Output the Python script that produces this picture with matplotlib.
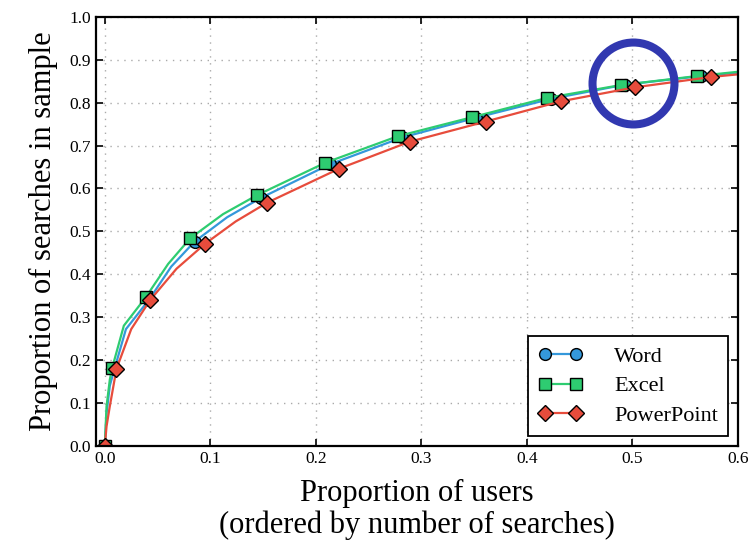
import numpy as np
import matplotlib as mpl
mpl.use('Agg')
import matplotlib.pyplot as plt

plt.rcParams['font.family'] = ['Liberation Serif', 'DejaVu Serif']
plt.rcParams['xtick.direction'] = 'in'
plt.rcParams['ytick.direction'] = 'in'

# values; *_marks are the indices drawn with a marker
word_x = [0.0, 0.0016, 0.0047, 0.009, 0.020, 0.042, 0.063, 0.085, 0.116, 0.148,
          0.213, 0.282, 0.352, 0.423, 0.493, 0.565, 0.6]
word_y = [0.0, 0.075, 0.140, 0.178, 0.272, 0.341, 0.418, 0.476, 0.533, 0.578,
          0.656, 0.719, 0.765, 0.809, 0.842, 0.862, 0.870]
word_marks = [0, 3, 5, 7, 9, 10, 11, 12, 13, 14, 15]

excel_x = [0.0, 0.0016, 0.0047, 0.007, 0.018, 0.039, 0.060, 0.081, 0.112, 0.144,
           0.209, 0.278, 0.348, 0.419, 0.489, 0.561, 0.6]
excel_y = [0.0, 0.092, 0.154, 0.182, 0.280, 0.347, 0.424, 0.484, 0.540, 0.584,
           0.660, 0.722, 0.766, 0.811, 0.841, 0.862, 0.872]
excel_marks = [0, 3, 5, 7, 9, 10, 11, 12, 13, 14, 15]

ppt_x = [0.0, 0.0016, 0.0047, 0.011, 0.025, 0.043, 0.068, 0.095, 0.124, 0.154,
         0.222, 0.289, 0.361, 0.432, 0.503, 0.575, 0.6]
ppt_y = [0.0, 0.045, 0.092, 0.179, 0.272, 0.340, 0.413, 0.471, 0.523, 0.567,
         0.646, 0.709, 0.756, 0.803, 0.836, 0.860, 0.866]
ppt_marks = [0, 3, 5, 7, 9, 10, 11, 12, 13, 14, 15]

xticks = [0.0, 0.1, 0.2, 0.3, 0.4, 0.5, 0.6]
yticks = [0.0, 0.1, 0.2, 0.3, 0.4, 0.5, 0.6, 0.7, 0.8, 0.9, 1.0]

fig = plt.figure(figsize=(7.49, 5.45), dpi=100)
ax = fig.add_axes([0.128, 0.182, 0.857, 0.787])

ax.plot(word_x, word_y, '-o', color='#3498db', mec='black', mew=1, ms=8.5,
        lw=1.6, markevery=word_marks, label='Word')
ax.plot(excel_x, excel_y, '-s', color='#2ecc71', mec='black', mew=1, ms=8.5,
        lw=1.6, markevery=excel_marks, label='Excel')
ax.plot(ppt_x, ppt_y, '-D', color='#e74c3c', mec='black', mew=1, ms=8.5,
        lw=1.6, markevery=ppt_marks, label='PowerPoint')

# highlight circle
ax.plot([0.5005], [0.845], 'o', ms=59, mfc='none', mec='#3138b0', mew=5.8)

ax.set_xlim(-0.0085, 0.6)
ax.set_ylim(0, 1.0)
ax.set_xticks(xticks)
ax.set_yticks(yticks)
ax.xaxis.set_major_formatter(mpl.ticker.FormatStrFormatter('%.1f'))
ax.yaxis.set_major_formatter(mpl.ticker.FormatStrFormatter('%.1f'))
ax.tick_params(labelsize=12.5, top=True, right=True, length=5, width=1.2)
ax.grid(True, linestyle=(0, (1, 4)), color='#aaaaaa', lw=1)
for s in ax.spines.values():
    s.set_linewidth(1.6)

ax.set_xlabel('Proportion of users\n(ordered by number of searches)', fontsize=22,
              linespacing=1.1, labelpad=9)
ax.set_ylabel('Proportion of searches in sample', fontsize=22, labelpad=8)

leg = ax.legend(loc='lower right', numpoints=2, fontsize=16, fancybox=False,
                edgecolor='black', framealpha=1, borderaxespad=0.45,
                handlelength=2.0, labelspacing=0.4, handletextpad=1.4,
                borderpad=0.45)
leg.get_frame().set_linewidth(1.3)

plt.savefig('out.png', dpi=100)
